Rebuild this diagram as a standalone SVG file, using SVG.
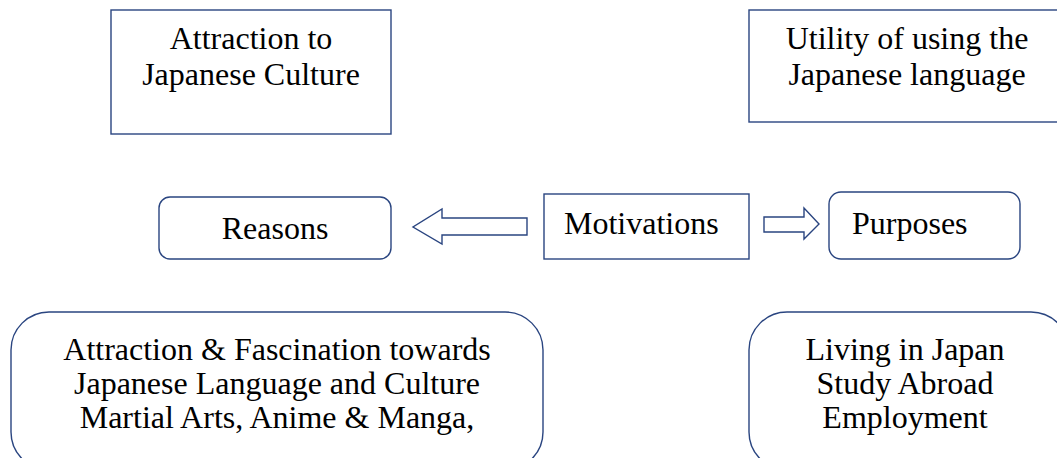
<svg xmlns="http://www.w3.org/2000/svg" width="1057" height="458" viewBox="0 0 1057 458">
<style>
.box{fill:#ffffff;stroke:#2a4580;stroke-width:1.4}
.t{font-family:"Liberation Serif",Tinos,"Times New Roman","DejaVu Serif",serif;font-size:32px;fill:#000000}
.c{text-anchor:middle}
</style>
<rect x="0" y="0" width="1057" height="458" fill="#ffffff"/>
<g id="n-culture">
<rect class="box" x="111" y="10" width="280" height="124"/>
<text class="t c" x="251" y="49">Attraction to</text>
<text class="t c" x="251" y="85">Japanese Culture</text>
</g>
<g id="n-utility">
<rect class="box" x="749" y="10" width="316" height="112"/>
<text class="t c" x="907" y="49">Utility of using the</text>
<text class="t c" x="907" y="85">Japanese language</text>
</g>
<g id="n-reasons">
<rect class="box" x="159" y="197" width="232" height="62" rx="11"/>
<text class="t c" x="275" y="239">Reasons</text>
</g>
<g id="n-motivations">
<rect class="box" x="544" y="194" width="205" height="65"/>
<text class="t" x="564" y="234">Motivations</text>
</g>
<g id="n-purposes">
<rect class="box" x="829" y="192" width="191" height="67" rx="12"/>
<text class="t" x="852" y="234">Purposes</text>
</g>
<g id="n-attraction">
<rect class="box" x="11" y="312" width="532" height="158" rx="38"/>
<text class="t c" x="277" y="360">Attraction &amp; Fascination towards</text>
<text class="t c" x="277" y="394">Japanese Language and Culture</text>
<text class="t c" x="277" y="428">Martial Arts, Anime &amp; Manga,</text>
</g>
<g id="n-living">
<rect class="box" x="749" y="312" width="320" height="158" rx="38"/>
<text class="t c" x="905" y="360">Living in Japan</text>
<text class="t c" x="905" y="394">Study Abroad</text>
<text class="t c" x="905" y="428">Employment</text>
</g>
<g id="connectors">
<polygon class="box" points="527,218 442,218 442,209 413,227 442,244 442,235 527,235"/>
<polygon class="box" points="764,217 804,217 804,208 819,224 804,239 804,232 764,232"/>
</g>
</svg>
